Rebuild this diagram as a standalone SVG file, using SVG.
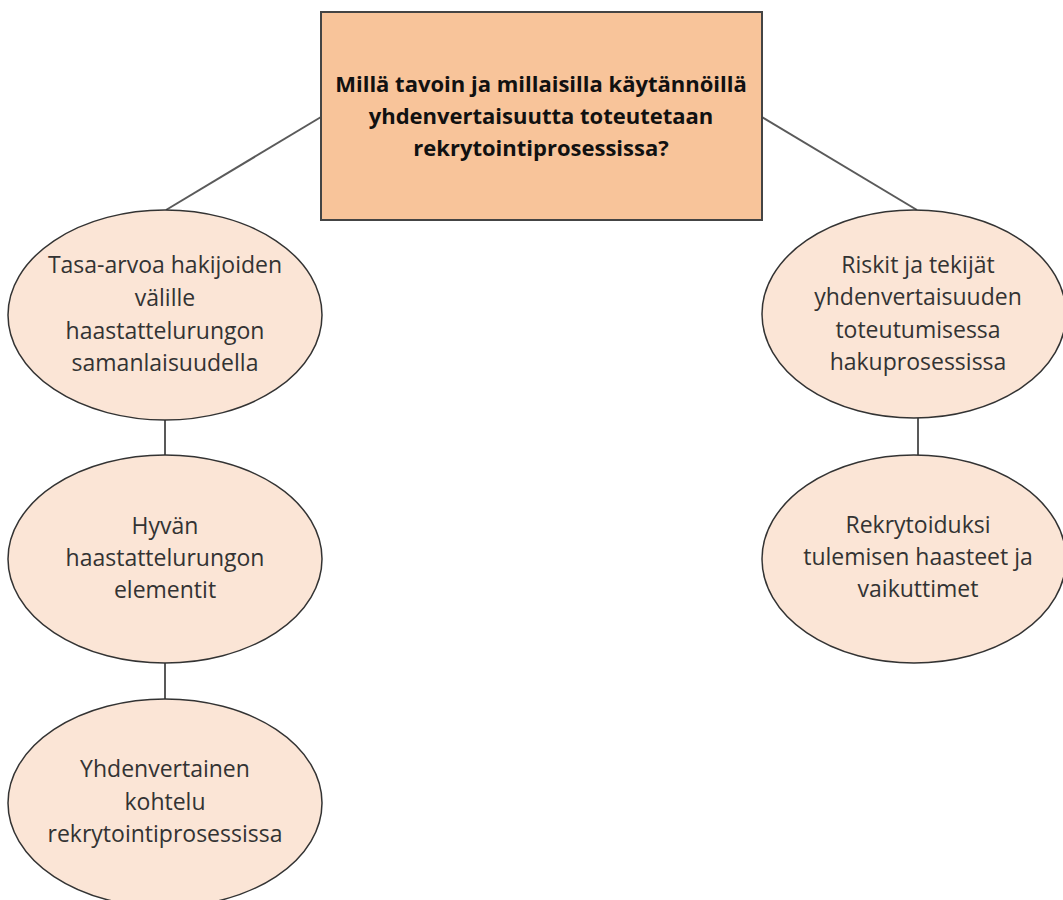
<svg xmlns="http://www.w3.org/2000/svg" width="1063" height="900" viewBox="0 0 1063 900">
<style>
.conn{stroke:#5a5a5a;stroke-width:2;fill:none}
.vconn{stroke:#222;stroke-width:1.5;fill:none}
.ell{fill:#FBE5D6;stroke:#333;stroke-width:1.5}
.box{fill:#F8C49A;stroke:#444;stroke-width:2}
text{font-family:"Open Sans","Liberation Sans",sans-serif;font-size:23px;fill:#333;text-anchor:middle}
.title{font-weight:bold;fill:#111;font-size:22px}
</style>
<rect width="1063" height="900" fill="#fff"/>
<g id="connectors">
<line class="conn" x1="321" y1="117" x2="166" y2="210"/>
<line class="conn" x1="762" y1="117" x2="917" y2="210"/>
<line class="vconn" x1="165" y1="420" x2="165" y2="456"/>
<line class="vconn" x1="165" y1="662" x2="165" y2="699"/>
<line class="vconn" x1="918" y1="418" x2="918" y2="455"/>
</g>
<g id="root">
<rect class="box" x="321" y="12" width="441" height="208"/>
<text class="title" x="541" y="92">Millä tavoin ja millaisilla käytännöillä</text>
<text class="title" x="541" y="124">yhdenvertaisuutta toteutetaan</text>
<text class="title" x="541" y="156">rekrytointiprosessissa?</text>
</g>
<g id="n1">
<ellipse class="ell" cx="165" cy="315" rx="157" ry="105"/>
<text x="165" y="273">Tasa-arvoa hakijoiden</text>
<text x="165" y="306">välille</text>
<text x="165" y="339">haastattelurungon</text>
<text x="165" y="371">samanlaisuudella</text>
</g>
<g id="n2">
<ellipse class="ell" cx="165" cy="559" rx="157" ry="104"/>
<text x="165" y="534">Hyvän</text>
<text x="165" y="566">haastattelurungon</text>
<text x="165" y="598">elementit</text>
</g>
<g id="n3">
<ellipse class="ell" cx="165" cy="803" rx="157" ry="104"/>
<text x="165" y="777">Yhdenvertainen</text>
<text x="165" y="810">kohtelu</text>
<text x="165" y="842">rekrytointiprosessissa</text>
</g>
<g id="n4">
<ellipse class="ell" cx="914" cy="314" rx="152" ry="104"/>
<text x="918" y="273">Riskit ja tekijät</text>
<text x="918" y="305">yhdenvertaisuuden</text>
<text x="918" y="338">toteutumisessa</text>
<text x="918" y="370">hakuprosessissa</text>
</g>
<g id="n5">
<ellipse class="ell" cx="914" cy="559" rx="152" ry="104"/>
<text x="918" y="533">Rekrytoiduksi</text>
<text x="918" y="565">tulemisen haasteet ja</text>
<text x="918" y="597">vaikuttimet</text>
</g>
</svg>
